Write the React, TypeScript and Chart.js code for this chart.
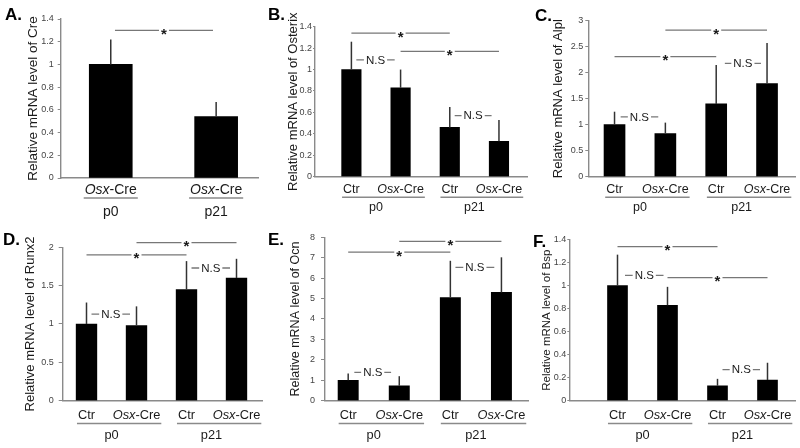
import React, { useEffect, useRef } from 'react';
import { Chart, registerables } from 'chart.js';

Chart.register(...registerables);

const FONT = "'Liberation Sans', Arial, Helvetica, sans-serif";

// ---------- data ----------
const creLabels = ['Osx-Cre', 'Osx-Cre'];
const genoLabels = ['Ctr', 'Osx-Cre', 'Ctr', 'Osx-Cre'];
const ageGroups = ['p0', 'p21'];

const creValues = [1.0, 0.54];
const creErrors = [0.22, 0.13];

const osterixValues = [1.0, 0.83, 0.46, 0.33];
const osterixErrors = [0.26, 0.17, 0.19, 0.2];

const alplValues = [1.0, 0.83, 1.4, 1.79];
const alplErrors = [0.25, 0.21, 0.75, 0.78];

const runx2Values = [1.0, 0.98, 1.45, 1.6];
const runx2Errors = [0.28, 0.25, 0.37, 0.25];

const ocnValues = [1.0, 0.73, 5.05, 5.3];
const ocnErrors = [0.33, 0.47, 1.8, 1.72];

const bspValues = [1.0, 0.83, 0.13, 0.18];
const bspErrors = [0.27, 0.16, 0.06, 0.15];

type Sig = { from: number; to: number; y: number; text: string };

const sigA: Sig[] = [{ from: 0.04, to: 0.97, y: 1.3, text: '*' }];
const sigB: Sig[] = [
  { from: 0, to: 2, y: 1.34, text: '*' },
  { from: 1, to: 3, y: 1.17, text: '*' },
  { from: 0.1, to: 0.88, y: 1.09, text: 'N.S' },
  { from: 2.1, to: 2.85, y: 0.57, text: 'N.S' },
];
const sigC: Sig[] = [
  { from: 0, to: 2, y: 2.31, text: '*' },
  { from: 1, to: 3, y: 2.82, text: '*' },
  { from: 0.12, to: 0.86, y: 1.15, text: 'N.S' },
  { from: 2.17, to: 2.88, y: 2.18, text: 'N.S' },
];
const sigD: Sig[] = [
  { from: 0, to: 2, y: 1.9, text: '*' },
  { from: 1, to: 3, y: 2.06, text: '*' },
  { from: 0.1, to: 0.87, y: 1.13, text: 'N.S' },
  { from: 2.1, to: 2.87, y: 1.73, text: 'N.S' },
];
const sigE: Sig[] = [
  { from: 0, to: 2, y: 7.27, text: '*' },
  { from: 1, to: 3, y: 7.8, text: '*' },
  { from: 0.12, to: 0.84, y: 1.39, text: 'N.S' },
  { from: 2.1, to: 2.86, y: 6.53, text: 'N.S' },
];
const sigF: Sig[] = [
  { from: 0, to: 2, y: 1.34, text: '*' },
  { from: 1, to: 3, y: 1.07, text: '*' },
  { from: 0.15, to: 0.92, y: 1.09, text: 'N.S' },
  { from: 2.1, to: 2.85, y: 0.27, text: 'N.S' },
];

// ---------- layout ----------
type PanelCfg = {
  key: string;
  letter: string;
  title: string;
  labels: string[];
  groups: string[];
  values: number[];
  errors: number[];
  sig: Sig[];
  yMax: number;
  yStep: number;
  x: number; y: number; w: number; h: number;
  left: number; right: number; top: number; bottom: number;
  titleX: number; titleSize: number;
  xMin: number; xMax: number; barW: number;
  tickLen: number; tickPad: number;
  labelY: number; lineY: number; groupY: number; labelSize: number;
  letterX: number; letterY: number;
};

const panels: PanelCfg[] = [
  {
    key: 'A', letter: 'A.', title: 'Relative mRNA level of Cre', labels: creLabels, groups: ageGroups,
    values: creValues, errors: creErrors, sig: sigA, yMax: 1.4, yStep: 0.2,
    x: 0, y: 0, w: 265, h: 224, left: 60.7, right: 258.3, top: 19, bottom: 178,
    titleX: 33, titleSize: 13.5, xMin: -0.475, xMax: 1.4, barW: 43, tickLen: 3, tickPad: 4,
    labelY: 190.5, lineY: 198, groupY: 212, labelSize: 14, letterX: 5, letterY: 20,
  },
  {
    key: 'B', letter: 'B.', title: 'Relative mRNA level of Osterix', labels: genoLabels, groups: ageGroups,
    values: osterixValues, errors: osterixErrors, sig: sigB, yMax: 1.4, yStep: 0.2,
    x: 265, y: 0, w: 265, h: 224, left: 50, right: 262, top: 26.7, bottom: 176.7,
    titleX: 28.5, titleSize: 13, xMin: -0.74, xMax: 3.57, barW: 19.5, tickLen: 2, tickPad: 1,
    labelY: 190, lineY: 197.3, groupY: 207.5, labelSize: 12.5, letterX: 3, letterY: 20,
  },
  {
    key: 'C', letter: 'C.', title: 'Relative mRNA level of Alpl', labels: genoLabels, groups: ageGroups,
    values: alplValues, errors: alplErrors, sig: sigC, yMax: 3, yStep: 0.5,
    x: 530, y: 0, w: 270, h: 224, left: 58.3, right: 265, top: 20.7, bottom: 176.7,
    titleX: 28.3, titleSize: 13, xMin: -0.516, xMax: 3.55, barW: 21, tickLen: 3, tickPad: 2,
    labelY: 190, lineY: 197.3, groupY: 207.5, labelSize: 12.5, letterX: 5, letterY: 21,
  },
  {
    key: 'D', letter: 'D.', title: 'Relative mRNA level of Runx2', labels: genoLabels, groups: ageGroups,
    values: runx2Values, errors: runx2Errors, sig: sigD, yMax: 2, yStep: 0.5,
    x: 0, y: 224, w: 265, h: 224, left: 62.7, right: 262, top: 23.3, bottom: 176.7,
    titleX: 30.7, titleSize: 13, xMin: -0.476, xMax: 3.51, barW: 20.7, tickLen: 4, tickPad: 5,
    labelY: 191, lineY: 199.5, groupY: 211.5, labelSize: 12.8, letterX: 3, letterY: 21,
  },
  {
    key: 'E', letter: 'E.', title: 'Relative mRNA level of Ocn', labels: genoLabels, groups: ageGroups,
    values: ocnValues, errors: ocnErrors, sig: sigE, yMax: 8, yStep: 1,
    x: 265, y: 224, w: 265, h: 224, left: 60, right: 263, top: 13.3, bottom: 176.7,
    titleX: 30.7, titleSize: 12.5, xMin: -0.454, xMax: 3.52, barW: 20.3, tickLen: 4, tickPad: 6,
    labelY: 191, lineY: 199.5, groupY: 211.5, labelSize: 12.8, letterX: 3, letterY: 21,
  },
  {
    key: 'F', letter: 'F.', title: 'Relative mRNA level of Bsp', labels: genoLabels, groups: ageGroups,
    values: bspValues, errors: bspErrors, sig: sigF, yMax: 1.4, yStep: 0.2,
    x: 530, y: 224, w: 270, h: 224, left: 39.3, right: 265, top: 15.7, bottom: 176.7,
    titleX: 16.5, titleSize: 11.5, xMin: -0.964, xMax: 3.55, barW: 20, tickLen: 2, tickPad: 1,
    labelY: 191, lineY: 199.5, groupY: 211.5, labelSize: 12.8, letterX: 3, letterY: 23,
  },
];

const TEXT = '#1a1a1a';
const AXIS = '#8a8a8a';

function drawCatLabel(ctx: CanvasRenderingContext2D, text: string, cx: number, cy: number, size: number): number {
  const parts = text.startsWith('Osx')
    ? [{ t: 'Osx', it: true }, { t: text.slice(3), it: false }]
    : [{ t: text, it: false }];
  const widths = parts.map((p) => {
    ctx.font = `${p.it ? 'italic ' : ''}${size}px ${FONT}`;
    return ctx.measureText(p.t).width;
  });
  const total = widths.reduce((a, b) => a + b, 0);
  let x = cx - total / 2;
  ctx.textAlign = 'left';
  ctx.textBaseline = 'middle';
  ctx.fillStyle = TEXT;
  parts.forEach((p, i) => {
    ctx.font = `${p.it ? 'italic ' : ''}${size}px ${FONT}`;
    ctx.fillText(p.t, x, cy);
    x += widths[i];
  });
  return total;
}

function makePlugin(cfg: PanelCfg) {
  return {
    id: 'annot' + cfg.key,
    afterDraw(chart: any) {
      const ctx: CanvasRenderingContext2D = chart.ctx;
      const xs = chart.scales.x;
      const ys = chart.scales.y;
      const meta = chart.getDatasetMeta(0);
      ctx.save();

      // error bars (upper)
      ctx.strokeStyle = '#333';
      ctx.lineWidth = 1.5;
      cfg.values.forEach((v, i) => {
        const bx = meta.data[i].x;
        ctx.beginPath();
        ctx.moveTo(bx, ys.getPixelForValue(v));
        ctx.lineTo(bx, ys.getPixelForValue(v + cfg.errors[i]));
        ctx.stroke();
      });

      // significance marks
      cfg.sig.forEach((s) => {
        const a = xs.getPixelForValue(s.from);
        const b = xs.getPixelForValue(s.to);
        const y = ys.getPixelForValue(s.y);
        const mid = (a + b) / 2;
        let half: number;
        if (s.text === '*') {
          half = 5;
        } else {
          ctx.font = `11.5px ${FONT}`;
          half = ctx.measureText(s.text).width / 2 + 2;
        }
        ctx.strokeStyle = '#777';
        ctx.lineWidth = 1.3;
        ctx.beginPath();
        ctx.moveTo(a, y);
        ctx.lineTo(mid - half, y);
        ctx.moveTo(mid + half, y);
        ctx.lineTo(b, y);
        ctx.stroke();
        ctx.fillStyle = TEXT;
        ctx.textAlign = 'center';
        if (s.text === '*') {
          ctx.font = `bold 15px ${FONT}`;
          ctx.textBaseline = 'alphabetic';
          ctx.fillText('*', mid, y + 8.5);
        } else {
          ctx.font = `11.5px ${FONT}`;
          ctx.textBaseline = 'middle';
          ctx.fillText(s.text, mid, y + 0.5);
        }
      });

      // category labels
      const widths = cfg.labels.map((l, i) => drawCatLabel(ctx, l, meta.data[i].x, cfg.labelY, cfg.labelSize));

      // group underline + group labels
      const gs = cfg.labels.length / cfg.groups.length;
      cfg.groups.forEach((g, gi) => {
        const i0 = gi * gs;
        const i1 = gi * gs + gs - 1;
        const x0 = meta.data[i0].x - widths[i0] / 2 - 1;
        const x1 = meta.data[i1].x + widths[i1] / 2 + 1;
        ctx.strokeStyle = AXIS;
        ctx.lineWidth = 1.5;
        ctx.beginPath();
        ctx.moveTo(x0, cfg.lineY);
        ctx.lineTo(x1, cfg.lineY);
        ctx.stroke();
        const cx = (meta.data[i0].x + meta.data[i1].x) / 2;
        ctx.fillStyle = TEXT;
        ctx.font = `${cfg.labelSize}px ${FONT}`;
        ctx.textAlign = 'center';
        ctx.textBaseline = 'middle';
        ctx.fillText(g, cx, cfg.groupY);
      });

      // panel letter
      ctx.fillStyle = '#000';
      ctx.font = `bold 17px ${FONT}`;
      ctx.textAlign = 'left';
      ctx.textBaseline = 'alphabetic';
      ctx.fillText(cfg.letter, cfg.letterX, cfg.letterY);

      ctx.restore();
    },
  };
}

function Panel({ cfg }: { cfg: PanelCfg }) {
  const ref = useRef<HTMLCanvasElement | null>(null);
  useEffect(() => {
    if (!ref.current) return;
    const titleOffset = (cfg.titleSize * 1.2) / 2 + 4;
    const yWidth = cfg.left - (cfg.titleX - titleOffset);
    const chart = new Chart(ref.current, {
      type: 'bar',
      data: {
        datasets: [
          {
            data: cfg.values.map((v, i) => ({ x: i, y: v })),
            backgroundColor: '#000',
            borderWidth: 0,
            barThickness: cfg.barW,
          } as any,
        ],
      },
      options: {
        animation: false,
        responsive: false,
        maintainAspectRatio: false,
        events: [],
        layout: {
          padding: {
            left: cfg.left - yWidth,
            right: cfg.w - cfg.right,
            top: cfg.top,
            bottom: cfg.h - cfg.bottom,
          },
        },
        plugins: { legend: { display: false }, tooltip: { enabled: false } },
        scales: {
          x: {
            type: 'linear',
            min: cfg.xMin,
            max: cfg.xMax,
            offset: false,
            bounds: 'data',
            grid: { display: false, offset: false },
            ticks: { display: false },
            border: { display: true, color: AXIS, width: 1.4 },
            afterFit: (s: any) => {
              s.height = 0;
            },
          },
          y: {
            type: 'linear',
            min: 0,
            max: cfg.yMax,
            ticks: {
              stepSize: cfg.yStep,
              color: '#444',
              font: { size: 9, family: FONT },
              padding: cfg.tickPad,
              callback: (v: any) => String(Math.round(Number(v) * 100) / 100),
            },
            grid: {
              display: true,
              drawOnChartArea: false,
              drawTicks: true,
              tickLength: cfg.tickLen,
              color: AXIS,
              lineWidth: 1,
            },
            border: { display: true, color: AXIS, width: 1.4 },
            title: {
              display: true,
              text: cfg.title,
              color: TEXT,
              font: { size: cfg.titleSize, family: FONT },
              padding: { top: 4, bottom: 4 },
            },
            afterFit: (s: any) => {
              s.width = yWidth;
            },
          },
        } as any,
      },
      plugins: [makePlugin(cfg)],
    });
    return () => chart.destroy();
  }, [cfg]);
  return (
    <canvas
      ref={ref}
      width={cfg.w}
      height={cfg.h}
      style={{ position: 'absolute', left: cfg.x, top: cfg.y, width: cfg.w, height: cfg.h }}
    />
  );
}

export default function App() {
  return (
    <div style={{ position: 'absolute', left: 0, top: 0, width: 800, height: 448, background: '#fff', overflow: 'hidden' }}>
      {panels.map((p) => (
        <Panel key={p.key} cfg={p} />
      ))}
    </div>
  );
}
